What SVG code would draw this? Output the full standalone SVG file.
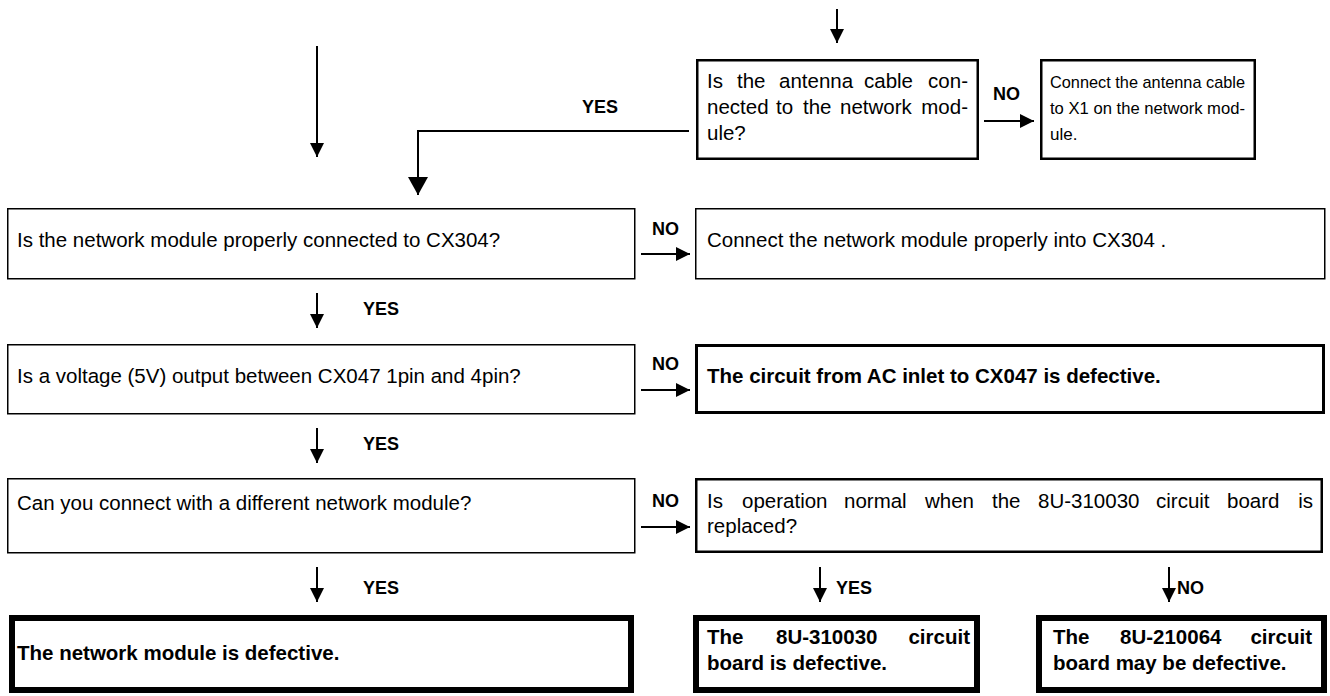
<svg xmlns="http://www.w3.org/2000/svg" width="1330" height="696" viewBox="0 0 1330 696">
<defs>
<marker id="ah" markerUnits="userSpaceOnUse" markerWidth="14" markerHeight="14" viewBox="0 0 14 14" refX="14" refY="7" orient="auto"><path d="M0,0 L14,7 L0,14 z" fill="#000"/></marker>
<marker id="ahb" markerUnits="userSpaceOnUse" markerWidth="20" markerHeight="20" viewBox="0 0 18 20" refX="18" refY="10" orient="auto"><path d="M0,0 L18,10 L0,20 z" fill="#000"/></marker>
</defs>
<style>
.t{font-family:"Liberation Sans",Arial,sans-serif;font-size:20.5px;fill:#000}
.s{font-size:17px}
.b{font-weight:bold}
.l{font-family:"Liberation Sans",Arial,sans-serif;font-size:18px;font-weight:bold;fill:#000}
.box{fill:#fff;stroke:#000}
.c{stroke:#000;stroke-width:2;fill:none}
</style>
<rect width="1330" height="696" fill="#fff"/>
<g id="connectors">
<line class="c" x1="837" y1="9" x2="837" y2="43" marker-end="url(#ah)"/>
<line class="c" x1="317" y1="46" x2="317" y2="157" marker-end="url(#ah)"/>
<polyline class="c" points="689,131 418,131 418,195" marker-end="url(#ahb)"/>
<line class="c" x1="984" y1="121" x2="1034" y2="121" marker-end="url(#ah)"/>
<line class="c" x1="641" y1="254" x2="690" y2="254" marker-end="url(#ah)"/>
<line class="c" x1="641" y1="390" x2="690" y2="390" marker-end="url(#ah)"/>
<line class="c" x1="641" y1="527" x2="690" y2="527" marker-end="url(#ah)"/>
<line class="c" x1="317" y1="293" x2="317" y2="328" marker-end="url(#ah)"/>
<line class="c" x1="317" y1="428" x2="317" y2="463" marker-end="url(#ah)"/>
<line class="c" x1="317" y1="567" x2="317" y2="602" marker-end="url(#ah)"/>
<line class="c" x1="820" y1="567" x2="820" y2="602" marker-end="url(#ah)"/>
<line class="c" x1="1169" y1="567" x2="1169" y2="602" marker-end="url(#ah)"/>
<text class="l" x="582" y="113">YES</text>
<text class="l" x="993" y="100">NO</text>
<text class="l" x="652" y="235">NO</text>
<text class="l" x="652" y="370">NO</text>
<text class="l" x="652" y="507">NO</text>
<text class="l" x="363" y="315">YES</text>
<text class="l" x="363" y="450">YES</text>
<text class="l" x="363" y="594">YES</text>
<text class="l" x="836" y="594">YES</text>
<text class="l" x="1177" y="594">NO</text>
</g>
<g id="n-antenna">
<rect class="box" x="697.25" y="60.25" width="280.5" height="98.5" stroke-width="2.5"/>
<text class="t" y="88"><tspan x="707">Is</tspan><tspan x="737">the</tspan><tspan x="779">antenna</tspan><tspan x="864">cable</tspan><tspan x="968" text-anchor="end">con-</tspan></text>
<text class="t" y="114"><tspan x="707">nected</tspan><tspan x="776">to</tspan><tspan x="803">the</tspan><tspan x="840">network</tspan><tspan x="968" text-anchor="end">mod-</tspan></text>
<text class="t" x="707" y="140">ule?</text>
</g>
<g id="n-connect-antenna">
<rect class="box" x="1041.25" y="60.25" width="213.5" height="98.5" stroke-width="2.5"/>
<text class="t s" x="1050" y="88" textLength="195" lengthAdjust="spacingAndGlyphs">Connect the antenna cable</text>
<text class="t s" x="1050" y="114" textLength="195" lengthAdjust="spacingAndGlyphs">to X1 on the network mod-</text>
<text class="t s" x="1050" y="140">ule.</text>
</g>
<g id="n-q1">
<rect class="box" x="7.75" y="208.75" width="627" height="70" stroke-width="1.5"/>
<text class="t" x="17" y="247">Is the network module properly connected to CX304?</text>
</g>
<g id="n-a1">
<rect class="box" x="695.75" y="208.75" width="629" height="70" stroke-width="1.5"/>
<text class="t" x="707" y="247">Connect the network module properly into CX304 .</text>
</g>
<g id="n-q2">
<rect class="box" x="7.75" y="344.75" width="627" height="69" stroke-width="1.5"/>
<text class="t" x="17" y="383">Is a voltage (5V) output between CX047 1pin and 4pin?</text>
</g>
<g id="n-a2">
<rect class="box" x="696.5" y="345.5" width="627" height="67" stroke-width="3"/>
<text class="t b" x="707" y="383">The circuit from AC inlet to CX047 is defective.</text>
</g>
<g id="n-q3">
<rect class="box" x="7.75" y="478.75" width="627" height="74" stroke-width="1.5"/>
<text class="t" x="17" y="510">Can you connect with a different network module?</text>
</g>
<g id="n-q4">
<rect class="box" x="696.25" y="479.25" width="625.5" height="72.5" stroke-width="2.5"/>
<text class="t" y="508"><tspan x="707">Is</tspan><tspan x="742">operation</tspan><tspan x="844">normal</tspan><tspan x="925">when</tspan><tspan x="992">the</tspan><tspan x="1038">8U-310030</tspan><tspan x="1156">circuit</tspan><tspan x="1227">board</tspan><tspan x="1313" text-anchor="end">is</tspan></text>
<text class="t" x="707" y="533">replaced?</text>
</g>
<g id="n-r1">
<rect class="box" x="12" y="618" width="619" height="72" stroke-width="6"/>
<text class="t b" x="17" y="660">The network module is defective.</text>
</g>
<g id="n-r2">
<rect class="box" x="696" y="618" width="281" height="72" stroke-width="6"/>
<text class="t b" y="644"><tspan x="707">The</tspan><tspan x="776">8U-310030</tspan><tspan x="970" text-anchor="end">circuit</tspan></text>
<text class="t b" x="707" y="670">board is defective.</text>
</g>
<g id="n-r3">
<rect class="box" x="1039" y="618" width="285" height="72" stroke-width="6"/>
<text class="t b" y="644"><tspan x="1053">The</tspan><tspan x="1120">8U-210064</tspan><tspan x="1312" text-anchor="end">circuit</tspan></text>
<text class="t b" x="1053" y="670">board may be defective.</text>
</g>
</svg>
